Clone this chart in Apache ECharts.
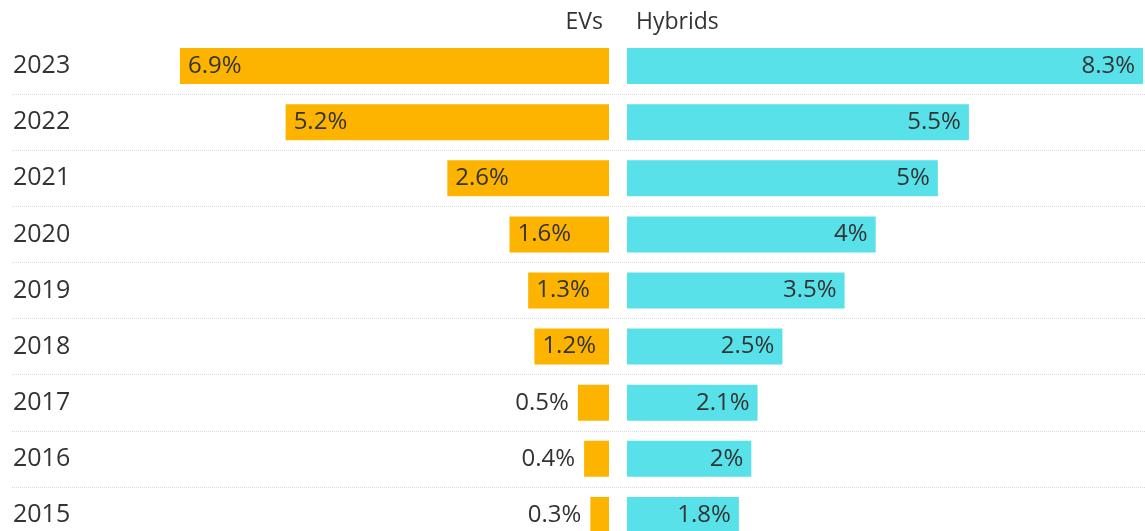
<!DOCTYPE html>
<html>
<head>
<meta charset="utf-8">
<script src="https://cdn.jsdelivr.net/npm/echarts@6/dist/echarts.min.js"></script>
<style>
  html, body { margin: 0; padding: 0; background: #fff; overflow: hidden; }
  /* a bit taller than the window: the last row is cut off at the bottom, like the source */
  #chart { width: 1145px; height: 545px; }
</style>
</head>
<body>
<div id="chart"></div>
<script>
const years = ['2023', '2022', '2021', '2020', '2019', '2018', '2017', '2016', '2015']
const evShare = [6.9, 5.2, 2.6, 1.6, 1.3, 1.2, 0.5, 0.4, 0.3]
const hybridShare = [8.3, 5.5, 5, 4, 3.5, 2.5, 2.1, 2, 1.8]

const font = '"Open Sans", sans-serif'
const textColor = '#333'

const chart = echarts.init(document.getElementById('chart'))

// small EV bars get their label outside the bar
const evData = evShare.map(v => ({
  value: v,
  label: v < 1 ? { position: 'left', distance: 9 } : { position: 'insideLeft', distance: 8 }
}))

const gridTop = 38
const gridBottom = 2

chart.setOption({
  animation: false,
  title: [
    { text: 'EVs', right: 537, top: 6, textStyle: { fontFamily: font, fontSize: 23, fontWeight: 'normal', color: textColor } },
    { text: 'Hybrids', left: 631, top: 6, textStyle: { fontFamily: font, fontSize: 23, fontWeight: 'normal', color: textColor } }
  ],
  grid: [
    { left: 12, right: 0, top: gridTop, bottom: gridBottom },
    { left: 12, right: 536, top: gridTop, bottom: gridBottom },
    { left: 627, right: 2, top: gridTop, bottom: gridBottom }
  ],
  xAxis: [
    { gridIndex: 0, type: 'value', show: false, min: 0, max: 1 },
    { gridIndex: 1, type: 'value', show: false, inverse: true, min: 0, max: 9.6 },
    { gridIndex: 2, type: 'value', show: false, min: 0, max: 8.3 }
  ],
  yAxis: [
    {
      gridIndex: 0, type: 'category', data: years, inverse: true,
      axisLine: { show: false }, axisTick: { show: false },
      axisLabel: { inside: true, margin: 1, fontFamily: font, fontSize: 25, color: textColor },
      splitLine: {
        show: true,
        interval: (i) => i !== 0,
        lineStyle: { color: '#d9d9d9', type: 'dotted', width: 1 }
      }
    },
    { gridIndex: 1, type: 'category', data: years, inverse: true, show: false },
    { gridIndex: 2, type: 'category', data: years, inverse: true, show: false }
  ],
  series: [
    {
      name: 'EVs', type: 'bar', xAxisIndex: 1, yAxisIndex: 1,
      data: evData, barWidth: 36,
      itemStyle: { color: '#FDB400' },
      label: { show: true, formatter: '{c}%', fontFamily: font, fontSize: 24, color: textColor }
    },
    {
      name: 'Hybrids', type: 'bar', xAxisIndex: 2, yAxisIndex: 2,
      data: hybridShare, barWidth: 36,
      itemStyle: { color: '#59E1EA' },
      label: { show: true, position: 'insideRight', distance: 8, formatter: '{c}%', fontFamily: font, fontSize: 24, color: textColor }
    }
  ]
})

window.addEventListener('resize', () => chart.resize())
</script>
</body>
</html>
